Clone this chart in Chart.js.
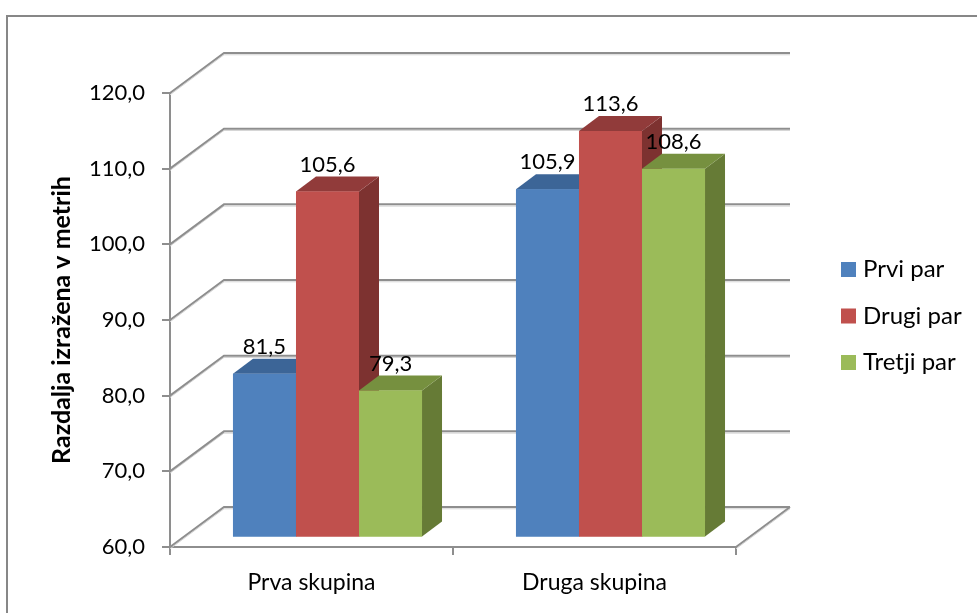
<!DOCTYPE html>
<html>
<head>
<meta charset="utf-8">
<script src="https://cdn.jsdelivr.net/npm/chart.js@4"></script>
<style>
  html, body { margin: 0; padding: 0; background: #fff; }
  canvas { display: block; }
</style>
</head>
<body>
<canvas id="c" width="977" height="613"></canvas>
<script>
// Razdalja po skupinah in parih
const categories = ['Prva skupina', 'Druga skupina'];
const seriesNames = ['Prvi par', 'Drugi par', 'Tretji par'];
const prviPar = [81.5, 105.9];
const drugiPar = [105.6, 113.6];
const tretjiPar = [79.3, 108.6];
const yMin = 60;
const yMax = 120;
const yStep = 10;
const axisTitle = 'Razdalja izražena v metrih';

// Barve: sprednja ploskev, zgornja ploskev, stranska ploskev
const frontColors = ['#4F81BD', '#C0504D', '#9BBB59'];
const topColors = ['#3C6597', '#913B3A', '#76903F'];
const sideColors = ['#355886', '#7D3230', '#667B36'];

const FONT = 'Lato, "Open Sans", sans-serif';
const LINE = '#8e8e8e';

// globina 3D okvira (zadnja stena) in položaj stolpcev v globini
const DEPTH = { dx: 54, dy: -40 };
const BAR_SHIFT = { dx: 16, dy: -10.5 };
const BAR_DEPTH = { dx: 20, dy: -15 };

const fmt = v => v.toFixed(1).replace('.', ',');

const frame3d = {
  id: 'frame3d',
  beforeDraw(chart) {
    const ctx = chart.ctx;
    ctx.save();
    ctx.strokeStyle = '#878787';
    ctx.lineWidth = 2;
    ctx.strokeRect(7, 16, 1200, 1000);
    ctx.restore();
  },
  beforeDatasetsDraw(chart) {
    const ctx = chart.ctx;
    const ys = chart.scales.y;
    const { left, right, bottom } = chart.chartArea;
    const stroke = (pts, color, width, off) => {
      ctx.beginPath();
      pts.forEach((p, i) => i ? ctx.lineTo(p[0], p[1] + off) : ctx.moveTo(p[0], p[1] + off));
      ctx.strokeStyle = color;
      ctx.lineWidth = width;
      ctx.stroke();
    };
    ctx.save();
    for (let v = yMin; v <= yMax; v += yStep) {
      const y = ys.getPixelForValue(v);
      const pts = [[left, y], [left + DEPTH.dx, y + DEPTH.dy], [right + DEPTH.dx, y + DEPTH.dy]];
      stroke(pts, '#d4d4d4', 1, 1.8);
      stroke(pts, LINE, 2, 0);
    }
    const fl = [[right, bottom], [right + DEPTH.dx, bottom + DEPTH.dy]];
    stroke(fl, '#d4d4d4', 1, 1.8);
    stroke(fl, LINE, 2, 0);
    ctx.restore();

    // stolpci ležijo nekoliko v globini
    ctx.save();
    ctx.translate(BAR_SHIFT.dx, BAR_SHIFT.dy);
  },
  afterDatasetsDraw(chart) {
    const ctx = chart.ctx;
    const area = chart.chartArea;
    const b = chart.scales.y.getPixelForValue(yMin);
    const { dx, dy } = BAR_DEPTH;
    const metas = chart.data.datasets.map((ds, i) => chart.getDatasetMeta(i));

    // od leve proti desni: stranska in zgornja ploskev, nato sprednja ploskev
    categories.forEach((c, j) => {
      metas.forEach((meta, i) => {
        const bar = meta.data[j];
        const p = bar.getProps(['x', 'y', 'width'], true);
        const l = p.x - p.width / 2, r = p.x + p.width / 2, t = p.y;
        ctx.fillStyle = sideColors[i];
        ctx.beginPath();
        ctx.moveTo(r, t); ctx.lineTo(r + dx, t + dy); ctx.lineTo(r + dx, b + dy); ctx.lineTo(r, b);
        ctx.closePath(); ctx.fill();
        ctx.fillStyle = topColors[i];
        ctx.beginPath();
        ctx.moveTo(l, t); ctx.lineTo(l + dx, t + dy); ctx.lineTo(r + dx, t + dy); ctx.lineTo(r, t);
        ctx.closePath(); ctx.fill();
        ctx.save();
        ctx.beginPath();
        ctx.rect(area.left, area.top, area.right - area.left, area.bottom - area.top);
        ctx.clip();
        bar.draw(ctx);
        ctx.restore();
      });
    });

    // vrednosti nad stolpci
    ctx.fillStyle = '#000';
    ctx.font = '22px ' + FONT;
    ctx.textAlign = 'center';
    ctx.textBaseline = 'middle';
    chart.data.datasets.forEach((ds, i) => {
      metas[i].data.forEach((bar, j) => {
        const p = bar.getProps(['x', 'y'], true);
        ctx.fillText(fmt(ds.data[j]), p.x, p.y - 27);
      });
    });
    ctx.restore();
  },
  afterDraw(chart) {
    // legenda
    const ctx = chart.ctx;
    ctx.save();
    ctx.font = '24px ' + FONT;
    ctx.textAlign = 'left';
    ctx.textBaseline = 'middle';
    chart.data.datasets.forEach((ds, i) => {
      const cy = 269.5 + i * 46.5;
      ctx.fillStyle = frontColors[i];
      ctx.fillRect(841, cy - 7.5, 15, 15);
      ctx.fillStyle = '#000';
      ctx.fillText(ds.label, 863, cy);
    });
    ctx.restore();
  }
};

Chart.defaults.color = '#000';

new Chart(document.getElementById('c'), {
  type: 'bar',
  data: {
    labels: categories,
    datasets: [prviPar, drugiPar, tretjiPar].map((d, i) => ({
      label: seriesNames[i],
      data: d,
      backgroundColor: frontColors[i],
      borderWidth: 0,
      categoryPercentage: 0.668,
      barPercentage: 1.0
    }))
  },
  options: {
    responsive: false,
    animation: false,
    devicePixelRatio: 1,
    layout: { padding: { left: 0, top: 93, right: 241, bottom: 0 } },
    plugins: {
      legend: { display: false },
      tooltip: { enabled: false }
    },
    scales: {
      x: {
        grid: { display: true, drawOnChartArea: false, drawTicks: true, tickLength: 8, color: LINE, lineWidth: 2 },
        border: { display: true, color: LINE, width: 2 },
        ticks: { padding: 14, font: { family: FONT, size: 23 }, color: '#000' },
        afterFit: s => { s.height = 66; }
      },
      y: {
        min: yMin,
        max: yMax,
        grid: { display: true, drawOnChartArea: false, drawTicks: true, tickLength: 8, color: LINE, lineWidth: 2 },
        border: { display: true, color: LINE, width: 2 },
        ticks: {
          stepSize: yStep,
          padding: 17,
          font: { family: FONT, size: 22 },
          color: '#000',
          callback: v => fmt(v)
        },
        title: {
          display: true,
          text: axisTitle,
          font: { family: FONT, size: 25, weight: 'bold' },
          color: '#000',
          padding: { top: 47, bottom: 0 }
        },
        afterFit: s => { s.width = 170; }
      }
    }
  },
  plugins: [frame3d]
});
</script>
</body>
</html>
